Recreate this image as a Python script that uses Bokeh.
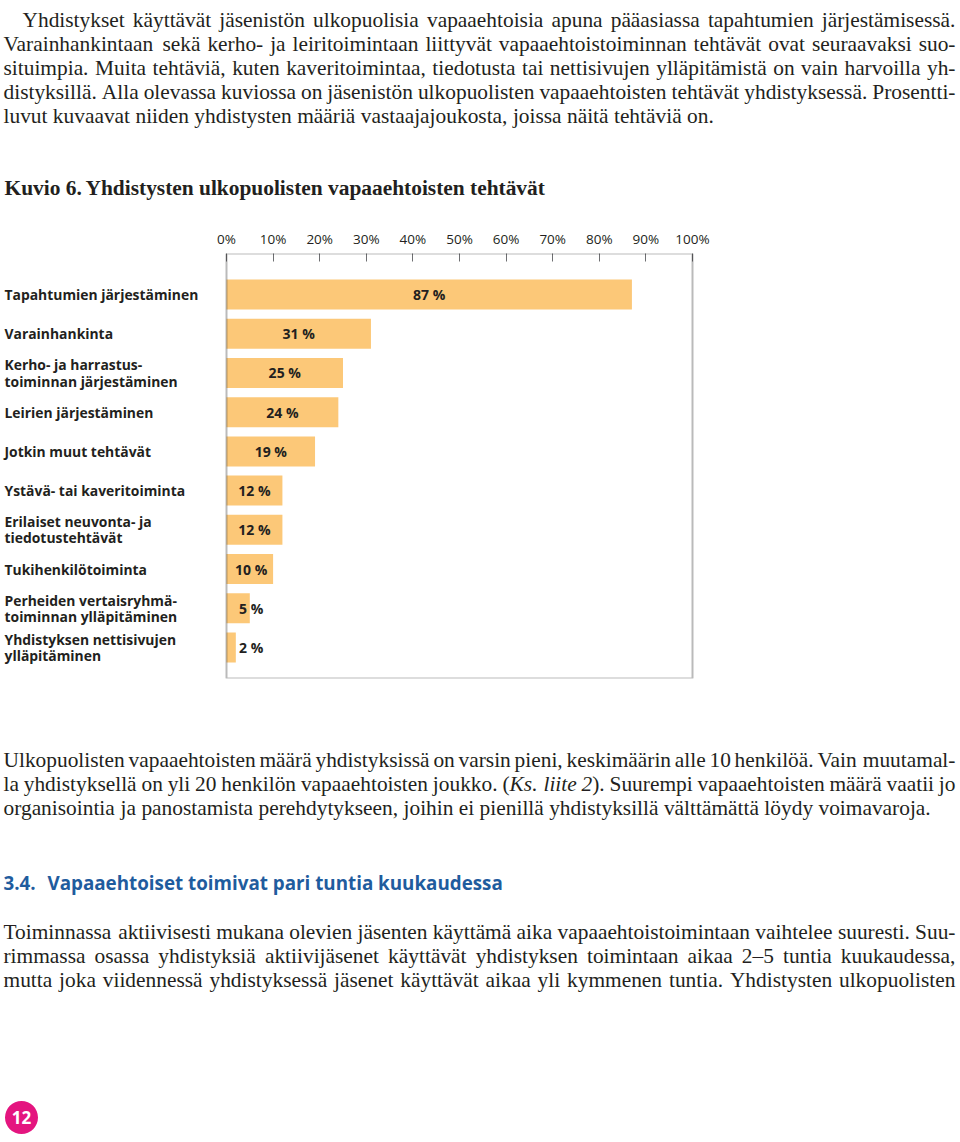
from bokeh.plotting import figure
from bokeh.models import Range1d, FixedTicker, PrintfTickFormatter, BoxAnnotation, ColumnDataSource
from bokeh.layouts import column
from bokeh.embed import file_html
from bokeh.resources import INLINE
from bokeh.core.properties import value

# ---------------- data ----------------
categories = [
    "Tapahtumien järjestäminen",
    "Varainhankinta",
    "Kerho- ja harrastus-\ntoiminnan järjestäminen",
    "Leirien järjestäminen",
    "Jotkin muut tehtävät",
    "Ystävä- tai kaveritoiminta",
    "Erilaiset neuvonta- ja\ntiedotustehtävät",
    "Tukihenkilötoiminta",
    "Perheiden vertaisryhmä-\ntoiminnan ylläpitäminen",
    "Yhdistyksen nettisivujen\nylläpitäminen",
]
values = [87, 31, 25, 24, 19, 12, 12, 10, 5, 2]
tick_values = [0, 10, 20, 30, 40, 50, 60, 70, 80, 90, 100]

figure_title = ["Kuvio 6.", "Yhdistysten ulkopuolisten vapaaehtoisten tehtävät"]
intro_lines = [
    "Yhdistykset käyttävät jäsenistön ulkopuolisia vapaaehtoisia apuna pääasiassa tapahtumien järjestämisessä.",
    "Varainhankintaan sekä kerho- ja leiritoimintaan liittyvät vapaaehtoistoiminnan tehtävät ovat seuraavaksi suo-",
    "situimpia. Muita tehtäviä, kuten kaveritoimintaa, tiedotusta tai nettisivujen ylläpitämistä on vain harvoilla yh-",
    "distyksillä. Alla olevassa kuviossa on jäsenistön ulkopuolisten vapaaehtoisten tehtävät yhdistyksessä. Prosentti-",
    "luvut kuvaavat niiden yhdistysten määriä vastaajajoukosta, joissa näitä tehtäviä on.",
]
after_lines = [
    "Ulkopuolisten vapaaehtoisten määrä yhdistyksissä on varsin pieni, keskimäärin alle 10 henkilöä. Vain muutamal-",
    "la yhdistyksellä on yli 20 henkilön vapaaehtoisten joukko. (_Ks. liite 2_). Suurempi vapaaehtoisten määrä vaatii jo",
    "organisointia ja panostamista perehdytykseen, joihin ei pienillä yhdistyksillä välttämättä löydy voimavaroja.",
]
section_heading = ["3.4.", "Vapaaehtoiset toimivat pari tuntia kuukaudessa"]
section_lines = [
    "Toiminnassa aktiivisesti mukana olevien jäsenten käyttämä aika vapaaehtoistoimintaan vaihtelee suuresti. Suu-",
    "rimmassa osassa yhdistyksiä aktiivijäsenet käyttävät yhdistyksen toimintaan aikaa 2–5 tuntia kuukaudessa,",
    "mutta joka viidennessä yhdistyksessä jäsenet käyttävät aikaa yli kymmenen tuntia. Yhdistysten ulkopuolisten",
]
page_number = ["12"]

# ---------------- style ----------------
W = 960
SERIF = "Liberation Serif"
SANS = "Open Sans"
INK = "#231f20"
BAR = "#fcc878"
BLUE = "#1f5c9e"
BODY_PX = 21.4
LEFT, RIGHT = 3, 955

# Times/Liberation Serif advance widths (1/1000 em) for justification
_TW = {" ": 250, ",": 250, ".": 250, "-": 333, "(": 333, ")": 333, "–": 500,
       "a": 444, "b": 500, "c": 444, "d": 500, "e": 444, "f": 333, "g": 500, "h": 500,
       "i": 278, "j": 278, "k": 500, "l": 278, "m": 778, "n": 500, "o": 500, "p": 500,
       "q": 500, "r": 333, "s": 389, "t": 278, "u": 500, "v": 500, "w": 722, "x": 500,
       "y": 500, "z": 444, "ä": 444, "ö": 500,
       "A": 722, "K": 722, "M": 889, "P": 556, "S": 556, "T": 611, "U": 722, "V": 722,
       "Y": 722}


def tw(s, size):
    return sum(_TW.get(c, 500) for c in s) / 1000.0 * size


def layout_line(line, x_left, x_right, size, justify):
    italic = False
    words = []
    for w in line.split(" "):
        segs = []
        for k, part in enumerate(w.split("_")):
            if k > 0:
                italic = not italic
            if part:
                segs.append((part, italic))
        words.append(segs)
    widths = [sum(tw(t, size) for t, _ in segs) for segs in words]
    n = len(words)
    if justify and n > 1:
        gap = max((x_right - x_left - sum(widths)) / (n - 1), 0.12 * size)
    else:
        gap = 0.25 * size
    out = []
    x = x_left
    for segs, ww in zip(words, widths):
        for t, it in segs:
            out.append((x, t, it))
            x += tw(t, size)
        x += gap
    return out


def text_fig(h):
    f = figure(width=W, height=h, x_range=Range1d(0, W), y_range=Range1d(h, 0),
               output_backend="svg", toolbar_location=None, title=None,
               x_axis_location=None, y_axis_location=None, min_border=0,
               outline_line_color=None, background_fill_color="white",
               border_fill_color="white")
    f.xgrid.visible = False
    f.ygrid.visible = False
    return f


def draw_paragraph(f, lines, baselines, first_indent=LEFT, last_justified=False):
    rx, ry, rt, ix, iy, it_ = [], [], [], [], [], []
    for i, (ln, yb) in enumerate(zip(lines, baselines)):
        justify = last_justified or i < len(lines) - 1
        x0 = first_indent if i == 0 else LEFT
        for x, t, ital in layout_line(ln, x0, RIGHT, BODY_PX, justify):
            if ital:
                ix.append(x); iy.append(yb); it_.append(t)
            else:
                rx.append(x); ry.append(yb); rt.append(t)
    f.text(x=rx, y=ry, text=rt, text_font=value(SERIF), text_font_size=f"{BODY_PX}px",
           text_color=INK, text_align="left", text_baseline="alphabetic")
    if it_:
        f.text(x=ix, y=iy, text=it_, text_font=value(SERIF), text_font_size=f"{BODY_PX}px",
               text_font_style="italic", text_color=INK, text_align="left",
               text_baseline="alphabetic")


# ---------------- top text (page y 0..200) ----------------
TOP_H = 200
top = text_fig(TOP_H)
draw_paragraph(top, intro_lines, [19, 43.2, 67.4, 91.6, 115.8], first_indent=22)
top.text(x=[4, 85], y=[187, 187], text=figure_title, text_font=value(SERIF),
         text_font_size="21.4px", text_font_style="bold", text_color=INK,
         text_align="left", text_baseline="alphabetic")

# ---------------- chart (page y 200..700) ----------------
CH_H = 500
px_per = (692 - 226) / 100.0
x_start = -226 / px_per
x_end = x_start + W / px_per
pitch = 39.2
y_top = -(294 - 253) / pitch
y_bot = (len(values) - 1) + (678 - 647) / pitch

idx = list(range(len(values)))
src = ColumnDataSource(dict(
    y=idx, v=values, cat=categories,
    lx=[max(v / 2.0, 5.3) for v in values],
    lab=[f"{v} %" for v in values],
    cx=[x_start + 4 / px_per] * len(values),
))

p = figure(width=W, height=CH_H, x_range=Range1d(x_start, x_end),
           y_range=Range1d(y_bot, y_top), output_backend="svg",
           toolbar_location=None, title=None, x_axis_location="above",
           y_axis_location=None, min_border_top=253 - TOP_H,
           min_border_bottom=TOP_H + CH_H - 678,
           min_border_left=0, min_border_right=0, outline_line_color=None,
           background_fill_color="white", border_fill_color="white")
p.xgrid.visible = False
p.ygrid.visible = False

p.hbar(y="y", left=0, right="v", height=30 / pitch, source=src,
       fill_color=BAR, line_color=None)
p.text(x="lx", y="y", text="lab", source=src, text_font=value(SANS),
       text_font_size="14px", text_font_style="bold", text_color=INK,
       text_align="center", text_baseline="middle")
p.text(x="cx", y="y", text="cat", source=src, text_font=value(SANS),
       text_font_size="13.9px", text_font_style="bold", text_color=INK,
       text_align="left", text_baseline="middle", text_line_height=0.85)

p.add_layout(BoxAnnotation(left=tick_values[0], right=tick_values[-1], fill_alpha=0,
                           fill_color=None, line_color="#1a1a1a", line_width=2))

ax = p.xaxis[0]
ax.ticker = FixedTicker(ticks=tick_values)
ax.formatter = PrintfTickFormatter(format="%d%%")
ax.axis_line_color = None
ax.major_tick_in = 8
ax.major_tick_out = 0
ax.major_tick_line_color = "#6d6e71"
ax.major_tick_line_width = 1
ax.minor_tick_line_color = None
ax.major_label_standoff = 6
ax.major_label_text_font = SANS
ax.major_label_text_font_size = "13.5px"
ax.major_label_text_color = INK

# ---------------- bottom text (page y 700..1142) ----------------
BOT_H = 1142 - TOP_H - CH_H
OFF = TOP_H + CH_H
bot = text_fig(BOT_H)
draw_paragraph(bot, after_lines, [759 - OFF, 783 - OFF, 807 - OFF], first_indent=LEFT)
bot.text(x=[3, 47], y=[882 - OFF, 882 - OFF], text=section_heading, text_font=value(SANS),
         text_font_size="18.8px", text_font_style="bold", text_color=BLUE,
         text_align="left", text_baseline="alphabetic")
draw_paragraph(bot, section_lines, [931 - OFF, 955 - OFF, 979 - OFF],
               first_indent=LEFT, last_justified=True)
bot.scatter(x=[21], y=[1117 - OFF], size=33, marker="circle", fill_color="#e4157f",
            line_color=None)
bot.text(x=[21], y=[1117 - OFF], text=page_number, text_font=value(SANS),
         text_font_size="17px", text_font_style="bold", text_color="white",
         text_align="center", text_baseline="middle")

layout = column(top, p, bot, spacing=0)
open("out.html", "w").write(file_html(layout, INLINE))
